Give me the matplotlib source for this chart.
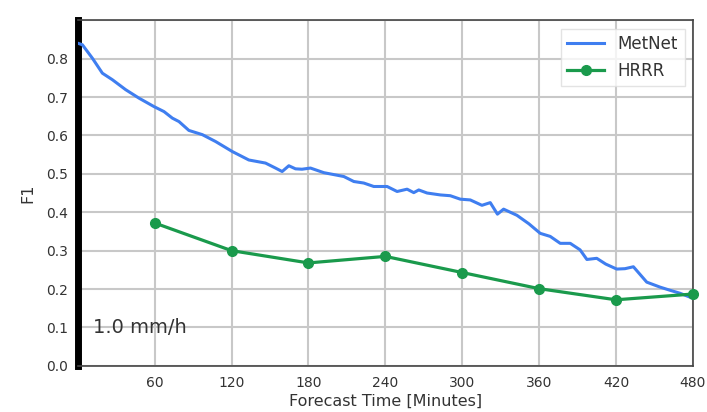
import matplotlib
matplotlib.use("Agg")
import matplotlib.pyplot as plt
import numpy as np

# MetNet F1 curve
metnet_t = [0, 3.6, 11.4, 19.2, 27, 37.4, 47.8, 59.5, 67.3, 73.8, 79, 86.7, 97.2,
            107.6, 120.6, 133.5, 146.5, 154.3, 159.5, 164.7, 169.9, 175, 181.6, 192,
            207.6, 215.4, 223.2, 231, 241.4, 249.2, 257, 262.2, 266.1, 272.6, 283,
            290.7, 298.5, 306.3, 315.4, 321.9, 327.5, 332.3, 342.7, 352, 360.9, 368.7,
            376.5, 384.3, 392, 397.3, 405, 412, 420.6, 427, 433.6, 444, 454.4, 462,
            470, 480]
metnet_f1 = [0.84, 0.836, 0.801, 0.762, 0.745, 0.719, 0.697, 0.675, 0.662, 0.645, 0.636,
             0.613, 0.602, 0.584, 0.558, 0.536, 0.528, 0.515, 0.506, 0.521, 0.513, 0.512,
             0.515, 0.503, 0.493, 0.480, 0.476, 0.467, 0.467, 0.454, 0.460, 0.451, 0.458,
             0.450, 0.445, 0.443, 0.434, 0.432, 0.418, 0.425, 0.395, 0.408, 0.392, 0.37,
             0.345, 0.337, 0.319, 0.319, 0.302, 0.277, 0.280, 0.265, 0.252, 0.253, 0.258,
             0.218, 0.205, 0.197, 0.189, 0.176]

# HRRR hourly points
hrrr_t = [60, 120, 180, 240, 300, 360, 420, 480]
hrrr_f1 = [0.372, 0.300, 0.268, 0.285, 0.243, 0.201, 0.172, 0.187]

xticks = [60, 120, 180, 240, 300, 360, 420, 480]
yticks = [0.0, 0.1, 0.2, 0.3, 0.4, 0.5, 0.6, 0.7, 0.8]

fig = plt.figure(figsize=(7.07, 4.12), dpi=100)
ax = fig.add_axes([0.110, 0.112, 0.870, 0.839])

ax.plot(metnet_t, metnet_f1, color="#3f7ef0", lw=2.2, label="MetNet", zorder=3)
ax.plot(hrrr_t, hrrr_f1, color="#1a9a4c", lw=2.3, marker="o", ms=7,
        label="HRRR", zorder=4, clip_on=False)

ax.set_xlim(0, 480)
ax.set_ylim(0, 0.9)
ax.set_xticks(xticks)
ax.set_yticks(yticks)
ax.set_yticks([0.9], minor=True)
ax.grid(True, which="both", color="#c8c8c8", lw=1.5)
ax.tick_params(length=0, labelsize=10, labelcolor="#333333", pad=7)
ax.tick_params(which="minor", length=0)

for s in ["top", "right", "bottom"]:
    ax.spines[s].set_color("#444444")
    ax.spines[s].set_linewidth(1.2)
ax.spines["left"].set_color("black")
ax.spines["left"].set_linewidth(5)

ax.set_xlabel("Forecast Time [Minutes]", fontsize=11.5, color="#333333", labelpad=3)
ax.set_ylabel("F1", fontsize=11.5, color="#333333", labelpad=8)

ax.text(0.025, 0.11, "1.0 mm/h", transform=ax.transAxes, fontsize=14,
        color="#333333", va="center", ha="left")

leg = ax.legend(loc="upper right", fontsize=12, frameon=True, fancybox=False,
                handlelength=2.2, borderaxespad=0.5)
leg.get_frame().set_edgecolor("#dddddd")
for t in leg.get_texts():
    t.set_color("#333333")

fig.savefig("out.png", dpi=100)
